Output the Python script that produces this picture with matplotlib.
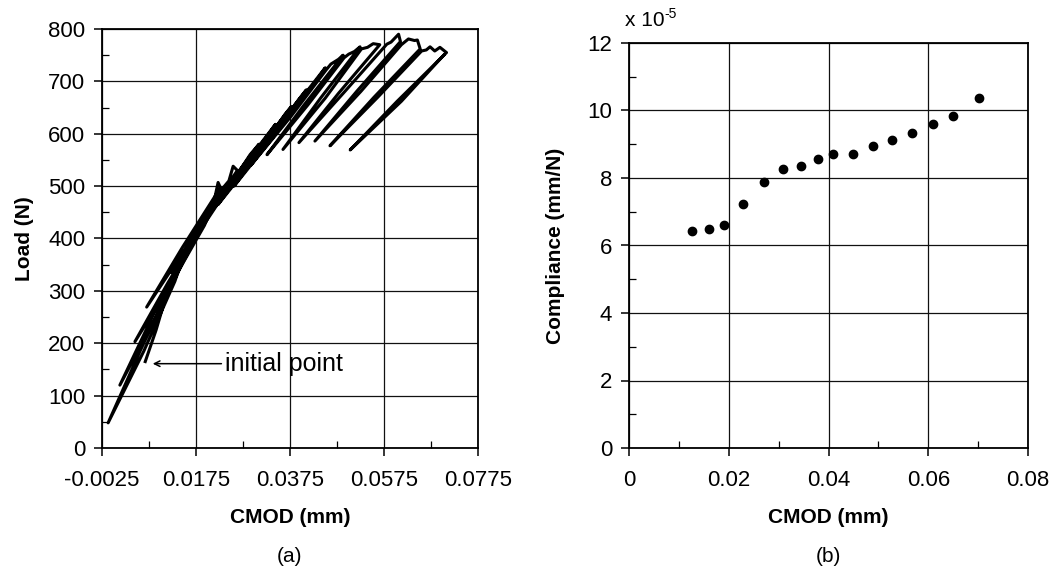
import matplotlib
matplotlib.use("Agg")
import matplotlib.pyplot as plt
from matplotlib.ticker import FixedLocator, FuncFormatter

plt.rcParams['font.family'] = ['Liberation Sans', 'DejaVu Sans']

# ---- (a) Load vs CMOD path (hysteresis loops) ----
cmod_path = [0.0067, 0.0090, 0.0113, 0.0127, 0.0056, -0.0012, 0.0064, 0.0130, 0.0148, 0.0161,
             0.0084, 0.0013, 0.0092, 0.0164, 0.0178, 0.0190, 0.0115, 0.0045, 0.0123, 0.0193,
             0.0212, 0.0222, 0.0227, 0.0146, 0.0070, 0.0154, 0.0230, 0.0245, 0.0254, 0.0263,
             0.0190, 0.0122, 0.0196, 0.0266, 0.0290, 0.0309, 0.0229, 0.0152, 0.0236, 0.0312,
             0.0330, 0.0344, 0.0263, 0.0186, 0.0270, 0.0347, 0.0365, 0.0378, 0.0298, 0.0222,
             0.0305, 0.0381, 0.0395, 0.0410, 0.0331, 0.0256, 0.0338, 0.0413, 0.0430, 0.0450,
             0.0369, 0.0292, 0.0377, 0.0452, 0.0462, 0.0478, 0.0488, 0.0405, 0.0326, 0.0413,
             0.0490, 0.0500, 0.0512, 0.0524, 0.0440, 0.0360, 0.0450, 0.0527, 0.0540, 0.0552,
             0.0566, 0.0478, 0.0394, 0.0488, 0.0581, 0.0590, 0.0606, 0.0610, 0.0517, 0.0428,
             0.0526, 0.0612, 0.0627, 0.0640, 0.0646, 0.0652, 0.0554, 0.0460, 0.0562, 0.0655,
             0.0665, 0.0673, 0.0683, 0.0694, 0.0708, 0.0603, 0.0503, 0.0612, 0.0702]
load_path = [165, 225, 295, 322, 185, 48, 185, 318, 365, 388,
             254, 120, 254, 385, 410, 428, 315, 203, 315, 425,
             465, 507, 497, 383, 269, 383, 494, 510, 538, 530,
             432, 335, 432, 527, 560, 580, 484, 388, 484, 578,
             600, 618, 523, 428, 523, 615, 638, 652, 558, 465,
             558, 650, 667, 684, 592, 500, 592, 681, 700, 726,
             633, 540, 633, 722, 733, 742, 750, 655, 560, 655,
             745, 752, 757, 766, 668, 570, 668, 762, 765, 772,
             770, 677, 583, 677, 771, 775, 790, 776, 681, 586,
             681, 770, 781, 778, 779, 762, 670, 577, 670, 758,
             760, 766, 758, 765, 755, 662, 569, 662, 750]

xticks_a = [-0.0025, 0.0175, 0.0375, 0.0575, 0.0775]
xtick_labels_a = ["-0.0025", "0.0175", "0.0375", "0.0575", "0.0775"]
yticks_a = [0, 100, 200, 300, 400, 500, 600, 700, 800]

# ---- (b) Compliance vs CMOD ----
cmod_b = [0.0127, 0.0161, 0.0190, 0.0228, 0.0271, 0.0309, 0.0344, 0.0378,
          0.0410, 0.0450, 0.0489, 0.0527, 0.0567, 0.0609, 0.0649, 0.0702]
compliance_b = [6.43e-5, 6.50e-5, 6.61e-5, 7.24e-5, 7.88e-5, 8.27e-5, 8.37e-5, 8.55e-5,
                8.71e-5, 8.72e-5, 8.96e-5, 9.12e-5, 9.33e-5, 9.59e-5, 9.84e-5, 10.38e-5]
xticks_b = [0, 0.02, 0.04, 0.06, 0.08]
xtick_labels_b = ["0", "0.02", "0.04", "0.06", "0.08"]
yticks_b = [0, 2e-5, 4e-5, 6e-5, 8e-5, 10e-5, 12e-5]

fig = plt.figure(figsize=(10.54, 5.74), dpi=100)
axa = fig.add_axes([102/1054, 1-448/574, 376/1054, 419/574])
axb = fig.add_axes([629/1054, 1-448/574, 399/1054, 405/574])

def style(ax):
    for s in ax.spines.values():
        s.set_color('black')
        s.set_linewidth(1.3)
    ax.grid(True, which='major', color='#111111', linewidth=0.9)
    ax.set_axisbelow(True)
    ax.tick_params(which='major', direction='out', length=6, width=1.1, colors='black')
    ax.tick_params(which='minor', direction='in', length=5, width=0.9, colors='black')

# (a)
axa.plot(cmod_path, load_path, color='black', linewidth=2.2, solid_joinstyle='round')
axa.set_xlim(-0.0025, 0.0775)
axa.set_ylim(0, 800)
axa.xaxis.set_major_locator(FixedLocator(xticks_a))
axa.set_xticklabels(xtick_labels_a)
axa.xaxis.set_minor_locator(FixedLocator([0.0075, 0.0275, 0.0475, 0.0675]))
axa.yaxis.set_major_locator(FixedLocator(yticks_a))
axa.yaxis.set_minor_locator(FixedLocator([50, 150, 250, 350, 450, 550, 650, 750]))
style(axa)
axa.tick_params(axis='x', labelsize=16, pad=10)
axa.tick_params(axis='y', labelsize=16, pad=6)
axa.set_xlabel("CMOD (mm)", fontsize=15, fontweight='bold', labelpad=12)
axa.set_ylabel("Load (N)", fontsize=15, fontweight='bold', labelpad=10)
axa.annotate("", xy=(0.0077, 161), xytext=(0.0235, 161),
             arrowprops=dict(arrowstyle='->', color='black', lw=1.1))
axa.text(0.0237, 161, "initial point", fontsize=18, va='center', ha='left')
fig.text(290/1054, 1-556/574, "(a)", fontsize=15, ha='center', va='center')

# (b)
axb.plot(cmod_b, compliance_b, 'o', color='black', markersize=6)
axb.set_xlim(0, 0.08)
axb.set_ylim(0, 12e-5)
axb.xaxis.set_major_locator(FixedLocator(xticks_b))
axb.set_xticklabels(xtick_labels_b)
axb.xaxis.set_minor_locator(FixedLocator([0.01, 0.03, 0.05, 0.07]))
axb.yaxis.set_major_locator(FixedLocator(yticks_b))
axb.yaxis.set_minor_locator(FixedLocator([1e-5, 3e-5, 5e-5, 7e-5, 9e-5, 11e-5]))
axb.yaxis.set_major_formatter(FuncFormatter(lambda v, p: f"{v/1e-5:.0f}"))
style(axb)
axb.tick_params(axis='x', labelsize=16, pad=10)
axb.tick_params(axis='y', labelsize=16, pad=6)
axb.set_xlabel("CMOD (mm)", fontsize=15, fontweight='bold', labelpad=12)
axb.set_ylabel("Compliance (mm/N)", fontsize=15, fontweight='bold', labelpad=16)
fig.text(625/1054, 1-21/574, "x 10", fontsize=15, ha='left', va='center')
fig.text(664/1054, 1-14/574, "-5", fontsize=10, ha='left', va='center')
fig.text(828/1054, 1-556/574, "(b)", fontsize=15, ha='center', va='center')

fig.savefig("out.png", dpi=100)
